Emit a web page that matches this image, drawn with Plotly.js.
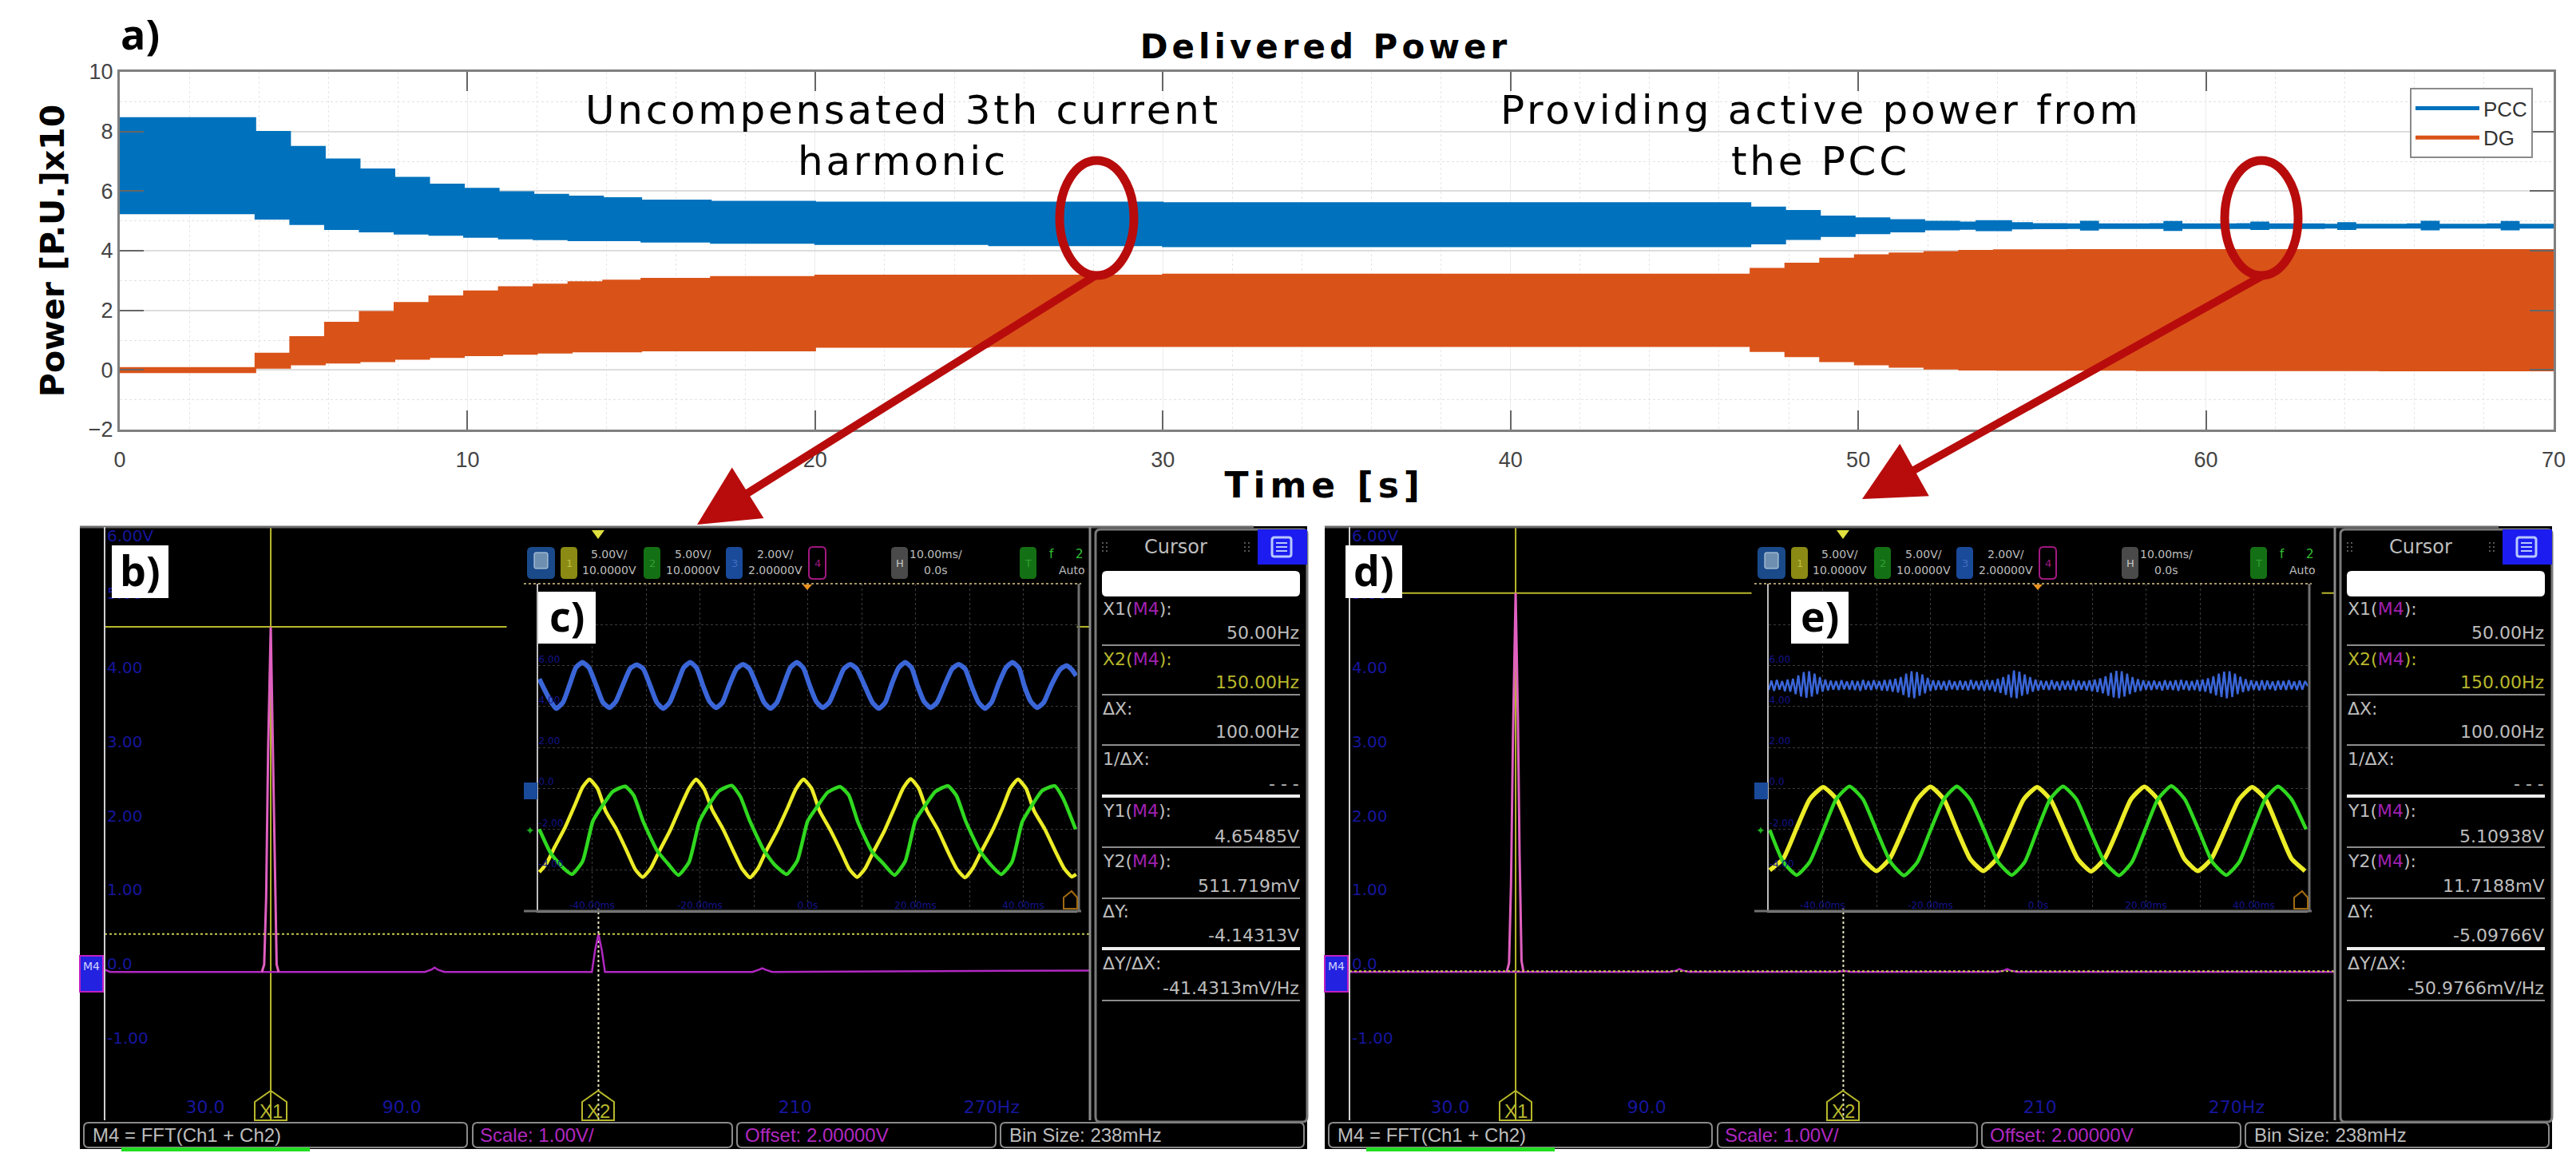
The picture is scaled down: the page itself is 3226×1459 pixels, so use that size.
<!DOCTYPE html>
<html><head><meta charset="utf-8">
<script src="https://cdn.plot.ly/plotly-3.0.1.min.js"></script>
<style>html,body{margin:0;padding:0;background:#fff}</style></head>
<body><div id="chart" style="width:3226px;height:1459px"></div>
<script>
// ---------- DATA: panel a) envelope of delivered power ----------
const pccUpperT=[0,3.9,4.9,5.9,6.9,7.9,8.9,9.9,10.9,11.9,12.9,13.9,15,17,20,30,46.9,47.9,48.9,49.9,50.9,51.9,52.9,53.4,53.9,54.4,55,56,56.4,56.9,58.4,58.8,59.3,60.9,61.3,61.8,63.4,63.8,64.3,65.8,66.2,66.7,68.1,68.5,69,70];
const pccUpperV=[8.45,7.99,7.49,7.07,6.73,6.45,6.22,6.08,5.97,5.88,5.82,5.77,5.69,5.65,5.62,5.60,5.45,5.34,5.15,5.09,5.03,4.98,4.95,5.0,5.0,4.93,4.90,4.89,4.98,4.89,4.90,4.97,4.89,4.90,4.95,4.89,4.88,4.93,4.88,4.89,4.98,4.88,4.89,4.97,4.88,4.88];
const pccLowerT=[0,3.9,4.9,5.9,6.9,7.9,8.9,9.9,10.9,11.9,12.9,15,17,20,25,30,46.9,47.9,48.9,49.9,50.9,51.9,52.9,53.4,53.9,54.4,55,56,56.4,56.9,58.4,58.8,59.3,60.9,61.3,61.8,63.4,63.8,64.3,65.8,66.2,66.7,68.1,68.5,69,70];
const pccLowerV=[5.25,5.07,4.89,4.72,4.64,4.57,4.53,4.46,4.41,4.38,4.35,4.30,4.26,4.22,4.18,4.15,4.24,4.39,4.49,4.58,4.64,4.71,4.73,4.68,4.68,4.74,4.75,4.76,4.70,4.76,4.76,4.69,4.76,4.76,4.72,4.76,4.77,4.72,4.77,4.77,4.71,4.77,4.77,4.71,4.77,4.77];
const dgUpperT=[0,3.9,4.9,5.9,6.9,7.9,8.9,9.9,10.9,11.9,12.9,13.9,15,17,20,30,46.9,47.9,48.9,49.9,50.9,51.9,52.9,53.9,56,70];
const dgUpperV=[0.07,0.55,1.11,1.59,1.95,2.25,2.47,2.64,2.78,2.87,2.95,3.0,3.06,3.12,3.17,3.2,3.40,3.57,3.74,3.85,3.91,3.96,4.0,4.02,4.03,4.03];
const dgLowerT=[0,3.9,4.9,5.9,6.9,7.9,8.9,9.9,11,12,13,15,20,25,46.9,47.9,48.9,49.9,50.9,51.9,52.9,54,58,65,70];
const dgLowerV=[-0.08,0.07,0.18,0.24,0.29,0.37,0.43,0.49,0.54,0.58,0.62,0.65,0.77,0.8,0.63,0.46,0.29,0.18,0.10,0.04,0.01,0,-0.01,-0.02,-0.03];
const mainXTicks=[0,10,20,30,40,50,60,70];
const mainYTicks=[-2,0,2,4,6,8,10];

// ---------- DATA: FFT spectra (Hz, V) ----------
const fftBaseHz=[-0.7,1,47,97,99,100,101,103,148,149,150,151,152,197,199,200,201,203,300];
const fftBaseB =[0.03,0,0,0,0.03,0.06,0.03,0,0,0.3,0.51,0.3,0,0,0.03,0.05,0.03,0,0.02];
const fftBaseD =[0,0,0,0,0.02,0.04,0.02,0,0,0.01,0.012,0.01,0,0,0.02,0.04,0.02,0,0];
const peakHz=[47.3,48,48.6,49.2,50,50.7,51.2,51.8,52.4];
const peakB=[0,0.1,1.0,3.0,4.65,3.0,1.4,0.1,0];
const peakD=[0,0.12,1.2,3.2,5.11,3.4,1.6,0.15,0];
const cursorY1B=4.65485, cursorY2B=0.511719, cursorY1D=5.10938, cursorY2D=0.0117188;
const fftXTicks=[30,90,210,270], fftXText=['30.0','90.0','210','270Hz'];
const fftYTicks=[-1,0,1,2,3,4,5,5.77], fftYText=['-1.00','0.0','1.00','2.00','3.00','4.00','5.00','6.00V'];

// ---------- DATA: oscilloscope insets (ms, divisions) ----------
const c1T=[-49.8,-48.5,-47,-45,-43,-41.8,-40.5,-39,-37.5,-35.5,-33.5,-32,-30.6,-29.1,-27.6,-25.6,-23.6,-22,-20.7,-19.2,-17.7,-15.7,-13.7,-12.2,-10.7,-9.2,-7.7,-5.7,-3.7,-2.2,-0.8,0.7,2.2,4.2,6.2,7.7,9.2,10.7,12.2,14.2,16.2,17.7,19.1,20.6,22.1,24.1,26.1,27.7,29.2,30.7,32.2,34.2,36.2,37.6,39,40.5,42,44,46,47.6,49,49.8];
const c1V=[-3.05,-2.85,-2.45,-1.95,-1.35,-0.98,-0.78,-1.0,-1.55,-2.0,-2.55,-2.98,-3.17,-2.95,-2.55,-2.05,-1.45,-1.0,-0.78,-1.02,-1.53,-2.0,-2.56,-2.96,-3.18,-2.95,-2.53,-2.04,-1.47,-1.02,-0.78,-1.0,-1.55,-2.02,-2.55,-2.97,-3.17,-2.95,-2.55,-2.05,-1.45,-1.0,-0.77,-1.0,-1.54,-2.0,-2.57,-2.98,-3.18,-2.94,-2.55,-2.05,-1.46,-1.0,-0.78,-1.0,-1.55,-2.0,-2.55,-2.96,-3.16,-3.1];
const c2T=[-49.8,-47.7,-45.7,-43.75,-41.75,-39.85,-38.15,-36.15,-33.85,-32.25,-30.55,-27.95,-25.95,-24,-22,-20.1,-18.4,-16.4,-14.1,-12.5,-10.8,-8.2,-6.2,-3.9,-1.9,0,1.7,3.7,6,7.6,9.3,11.9,13.9,16.1,18.1,20,21.7,23.7,26,27.6,29.3,31.9,33.9,35.9,37.9,39.8,41.5,43.5,45.8,47.4,49.7];
const c2V=[-2.0,-2.58,-2.9,-3.1,-2.78,-1.8,-1.44,-1.08,-0.95,-1.18,-1.8,-2.52,-2.84,-3.12,-2.8,-1.82,-1.42,-1.06,-0.93,-1.2,-1.78,-2.5,-2.86,-3.1,-2.76,-1.8,-1.46,-1.1,-0.96,-1.16,-1.82,-2.54,-2.82,-3.12,-2.78,-1.78,-1.44,-1.08,-0.94,-1.18,-1.8,-2.52,-2.86,-3.1,-2.8,-1.82,-1.44,-1.06,-0.94,-1.25,-2.0];
const c3T=[-49.8,-48,-46.7,-45.4,-44.2,-43,-41.8,-40.6,-39.2,-38,-36.8,-35.6,-34.2,-32.9,-31.7,-30.5,-29.2,-28,-26.8,-25.6,-24.2,-23,-21.8,-20.6,-19.4,-18.2,-17,-15.8,-14.5,-13.2,-12,-10.8,-9.4,-8.1,-6.9,-5.7,-4.4,-3.2,-2,-0.8,0.4,1.6,2.8,4,5.4,6.7,7.9,9.1,10.6,12,13.2,14.4,15.6,16.9,18.1,19.3,20.4,21.6,22.8,24,25.4,26.8,28,29.2,30.4,31.7,32.9,34.1,35.4,36.8,38,39.2,40.2,41.4,42.6,43.8,45.2,46.8,48,49,49.8];
const c3V=[1.67,1.2,0.95,1.1,1.52,1.95,2.08,1.95,1.5,1.1,0.97,1.12,1.55,1.93,2.02,1.92,1.5,1.1,0.95,1.1,1.55,1.95,2.08,1.94,1.5,1.12,0.97,1.1,1.54,1.92,2.03,1.92,1.5,1.1,0.95,1.1,1.55,1.95,2.08,1.94,1.5,1.12,0.97,1.1,1.52,1.92,2.03,1.92,1.5,1.1,0.95,1.1,1.55,1.95,2.08,1.94,1.5,1.12,0.97,1.1,1.52,1.92,2.03,1.92,1.5,1.1,0.95,1.1,1.55,1.95,2.08,1.94,1.5,1.12,0.97,1.1,1.52,1.9,2.0,1.9,1.75];
const e1T=[-49.8,-47.3,-44.9,-42.4,-39.9,-37.4,-34.9,-32.5,-30,-27.5,-25,-22.5,-20,-17.5,-15.1,-12.6,-10.2,-7.7,-5.2,-2.7,-0.2,2.3,4.8,7.3,9.8,12.3,14.8,17.2,19.7,22.2,24.7,27.1,29.6,32.1,34.7,37.2,39.7,42.2,44.6,47,49.5];
const e1V=[-3.0,-2.72,-2.0,-1.27,-0.97,-1.27,-2.0,-2.72,-3.02,-2.71,-2.0,-1.28,-0.96,-1.27,-2.01,-2.73,-3.02,-2.72,-2.0,-1.27,-0.97,-1.28,-2.0,-2.72,-3.03,-2.72,-2.0,-1.27,-0.96,-1.27,-2.0,-2.72,-3.02,-2.73,-2.0,-1.28,-0.97,-1.27,-2.0,-2.72,-3.02];
const e2T=[-49.8,-47.3,-44.8,-42.4,-39.9,-37.5,-35,-32.5,-30,-27.4,-24.9,-22.4,-20,-17.5,-15.1,-12.6,-10,-7.5,-4.9,-2.5,-0.2,2.2,4.6,7.1,9.6,12.3,15,17.4,19.8,22.2,24.7,27.2,29.8,32.3,34.9,37.3,39.7,42.1,44.5,47,49.7];
const e2V=[-2.02,-2.8,-3.12,-2.8,-2.03,-1.27,-0.95,-1.27,-2.03,-2.8,-3.13,-2.8,-2.03,-1.27,-0.95,-1.28,-2.03,-2.79,-3.12,-2.8,-2.03,-1.27,-0.95,-1.27,-2.02,-2.8,-3.13,-2.8,-2.03,-1.27,-0.94,-1.27,-2.03,-2.8,-3.12,-2.8,-2.03,-1.27,-0.95,-1.27,-2.0];
const e3T=[-50,-49.5,-49,-48.5,-48,-47.5,-47,-46.5,-46,-45.5,-45,-44.5,-44,-43.5,-43,-42.5,-42,-41.5,-41,-40.5,-40,-39.5,-39,-38.5,-38,-37.5,-37,-36.5,-36,-35.5,-35,-34.5,-34,-33.5,-33,-32.5,-32,-31.5,-31,-30.5,-30,-29.5,-29,-28.5,-28,-27.5,-27,-26.5,-26,-25.5,-25,-24.5,-24,-23.5,-23,-22.5,-22,-21.5,-21,-20.5,-20,-19.5,-19,-18.5,-18,-17.5,-17,-16.5,-16,-15.5,-15,-14.5,-14,-13.5,-13,-12.5,-12,-11.5,-11,-10.5,-10,-9.5,-9,-8.5,-8,-7.5,-7,-6.5,-6,-5.5,-5,-4.5,-4,-3.5,-3,-2.5,-2,-1.5,-1,-0.5,0,0.5,1,1.5,2,2.5,3,3.5,4,4.5,5,5.5,6,6.5,7,7.5,8,8.5,9,9.5,10,10.5,11,11.5,12,12.5,13,13.5,14,14.5,15,15.5,16,16.5,17,17.5,18,18.5,19,19.5,20,20.5,21,21.5,22,22.5,23,23.5,24,24.5,25,25.5,26,26.5,27,27.5,28,28.5,29,29.5,30,30.5,31,31.5,32,32.5,33,33.5,34,34.5,35,35.5,36,36.5,37,37.5,38,38.5,39,39.5,40,40.5,41,41.5,42,42.5,43,43.5,44,44.5,45,45.5,46,46.5,47,47.5,48,48.5,49,49.5,50];
const e3V=[1.40,1.63,1.38,1.65,1.41,1.62,1.37,1.66,1.36,1.68,
 1.3,1.76,1.24,1.84,1.21,1.86,1.24,1.8,1.3,1.72,
 1.36,1.66,1.39,1.63,1.41,1.62,1.4,1.64,1.42,1.61,
 1.41,1.63,1.4,1.62,1.38,1.65,1.41,1.62,1.4,1.64,
 1.42,1.62,1.39,1.65,1.38,1.66,1.36,1.68,1.34,1.72,
 1.28,1.8,1.22,1.86,1.2,1.84,1.26,1.78,1.32,1.7,
 1.38,1.64,1.4,1.63,1.41,1.62,1.39,1.64,1.42,1.61,
 1.4,1.63,1.41,1.62,1.39,1.65,1.42,1.62,1.4,1.63,
 1.38,1.65,1.4,1.64,1.36,1.68,1.33,1.72,1.28,1.78,
 1.22,1.88,1.2,1.85,1.26,1.78,1.3,1.72,1.36,1.66,
 1.39,1.63,1.41,1.62,1.4,1.64,1.42,1.61,1.39,1.63,
 1.41,1.62,1.4,1.65,1.38,1.63,1.41,1.62,1.39,1.64,
 1.37,1.66,1.35,1.69,1.32,1.74,1.26,1.82,1.22,1.87,
 1.2,1.86,1.24,1.8,1.3,1.72,1.35,1.67,1.38,1.64,
 1.41,1.62,1.4,1.63,1.42,1.61,1.39,1.64,1.41,1.62,
 1.4,1.64,1.38,1.65,1.41,1.63,1.39,1.62,1.4,1.65,
 1.37,1.66,1.36,1.69,1.32,1.74,1.27,1.8,1.23,1.85,
 1.2,1.86,1.23,1.8,1.3,1.73,1.35,1.67,1.38,1.64,
 1.41,1.62,1.39,1.64,1.4,1.63,1.42,1.61,1.39,1.63,
 1.41,1.62,1.4,1.64,1.42,1.61,1.4,1.63,1.41,1.62,1.5];
const insetXTicks=[-40,-30,-20,-10,0,10,20,30,40], insetXText=['-40.00ms','','-20.00ms','','0.0s','','20.00ms','','40.00ms'];
const insetYTicks=[-3,-2,-1,0,1,2,3], insetYText=['-4.00','-2.00','0.0','2.00','4.00','6.00',''];

// ---------- DATA: text ----------
const cursorLabels=['X1(<span style="color:#a020b0">M4</span>):','X2(<span style="color:#a020b0">M4</span>):','\u0394X:','1/\u0394X:','Y1(<span style="color:#a020b0">M4</span>):','Y2(<span style="color:#a020b0">M4</span>):','\u0394Y:','\u0394Y/\u0394X:'];
const cursorValuesB=['50.00Hz','150.00Hz','100.00Hz','- - -','4.65485V','511.719mV','-4.14313V','-41.4313mV/Hz'];
const cursorValuesD=['50.00Hz','150.00Hz','100.00Hz','- - -','5.10938V','11.7188mV','-5.09766V','-50.9766mV/Hz'];
const chanScales=[['5.00V/','10.0000V'],['5.00V/','10.0000V'],['2.00V/','2.00000V']];

// ---------- page-pixel helpers ----------
const W=3226,H=1459, px=x=>x/W, py=y=>1-y/H;
const RED='#b80c0c', GREY='#bdbdbd', BL='#16169c', OL='#b8b82c', MG='#b028c0', DEJA='DejaVu Sans', NARROW='"Liberation Sans Narrow","Liberation Sans",Arial';
const spaced=(s,n)=>'<span style="letter-spacing:'+n+'px">'+s+'</span>';
const shapes=[], annos=[], traces=[];
const rect=(l,t,r,b,fill,line,lw,layer)=>shapes.push({type:'rect',xref:'paper',yref:'paper',x0:px(l),x1:px(r),y0:py(b),y1:py(t),fillcolor:fill||'rgba(0,0,0,0)',line:{color:line||'rgba(0,0,0,0)',width:lw||0},layer:layer||'below'});
const seg=(x0,y0,x1,y1,c,w,dash,layer)=>shapes.push({type:'line',xref:'paper',yref:'paper',x0:px(x0),x1:px(x1),y0:py(y0),y1:py(y1),line:{color:c,width:w,dash:dash||'solid'},layer:layer||'above'});
const poly=(pts,fill,line,lw,layer)=>shapes.push({type:'path',xref:'paper',yref:'paper',path:'M'+pts.map(p=>px(p[0])+','+py(p[1])).join('L')+'Z',fillcolor:fill||'rgba(0,0,0,0)',line:{color:line||'rgba(0,0,0,0)',width:lw||0},layer:layer||'above'});
const round=(l,t,r,b,rad,fill,line,lw,layer)=>{const a=px,c=py;shapes.push({type:'path',xref:'paper',yref:'paper',path:`M${a(l+rad)},${c(t)}L${a(r-rad)},${c(t)}Q${a(r)},${c(t)} ${a(r)},${c(t+rad)}L${a(r)},${c(b-rad)}Q${a(r)},${c(b)} ${a(r-rad)},${c(b)}L${a(l+rad)},${c(b)}Q${a(l)},${c(b)} ${a(l)},${c(b-rad)}L${a(l)},${c(t+rad)}Q${a(l)},${c(t)} ${a(l+rad)},${c(t)}Z`,fillcolor:fill||'rgba(0,0,0,0)',line:{color:line||'rgba(0,0,0,0)',width:lw||0},layer:layer||'above'});};
const txt=(x,y,s,size,color,anchor,family,weight,angle)=>annos.push({xref:'paper',yref:'paper',x:px(x),y:py(y),text:s,showarrow:false,xanchor:anchor||'center',yanchor:'middle',textangle:angle||0,borderpad:0,font:{size:size,color:color||'#000',family:family||DEJA,weight:weight||400}});

const layout={width:W,height:H,margin:{l:0,r:0,t:0,b:0,autoexpand:false},paper_bgcolor:'#fff',plot_bgcolor:'rgba(0,0,0,0)',showlegend:true,
 title:{text:spaced('Delivered Power',5),x:px(1660),y:py(58),xref:'paper',yref:'paper',xanchor:'center',yanchor:'middle',font:{family:DEJA,size:42,weight:700,color:'#000'}},
 legend:{x:px(3018),y:py(110),xanchor:'left',yanchor:'top',traceorder:'normal',bgcolor:'#fff',bordercolor:'#8a8a8a',borderwidth:2,font:{family:NARROW,size:26,color:'#333'},itemwidth:80,tracegroupgap:0,itemclick:false}};

// ---------- panel a) ----------
const band=(n,c,uT,uV,lT,lV)=>{
 traces.push({x:[null],y:[null],name:n,type:'scatter',mode:'lines',line:{color:c,width:5},xaxis:'x',yaxis:'y'});
 traces.push({x:uT,y:uV,name:n+' max',type:'scatter',mode:'lines',line:{color:c,width:2,shape:'hv'},showlegend:false,xaxis:'x',yaxis:'y'});
 traces.push({x:lT,y:lV,name:n+' min',type:'scatter',mode:'lines',line:{color:c,width:2,shape:'hv'},fill:'tonexty',fillcolor:c,showlegend:false,xaxis:'x',yaxis:'y'});
};
band('PCC','#0072BD',pccUpperT,pccUpperV,pccLowerT,pccLowerV);
band('DG','#D95319',dgUpperT,dgUpperV,dgLowerT,dgLowerV);
layout.xaxis={domain:[px(150),px(3198)],range:[0,70],tickvals:mainXTicks,ticks:'inside',ticklen:24,tickcolor:'#666',tickwidth:2,mirror:'ticks',showline:true,linecolor:'#808080',linewidth:3,showgrid:true,gridcolor:'#ececec',gridwidth:1,
 minor:{dtick:2,showgrid:true,gridcolor:'#e6e6e6',griddash:'dot',gridwidth:1},tickfont:{family:NARROW,size:27,color:'#444'},ticklabelstandoff:12,zeroline:false,
 title:{text:spaced('Time [s]',6)+'&nbsp;&nbsp;',font:{family:DEJA,size:44,weight:700,color:'#000'},standoff:2},anchor:'y'};
layout.yaxis={domain:[py(538),py(90)],range:[-2,10],tickvals:mainYTicks,ticks:'inside',ticklen:30,tickcolor:'#666',tickwidth:2,mirror:'ticks',showline:true,linecolor:'#808080',linewidth:3,showgrid:true,gridcolor:'#dddddd',gridwidth:2,
 minor:{dtick:1,showgrid:true,gridcolor:'#e2e2e2',griddash:'dot',gridwidth:1},tickfont:{family:NARROW,size:27,color:'#444'},zeroline:false,
 title:{text:'Power [P.U.]x10',font:{family:DEJA,size:41,weight:700,color:'#000'},standoff:18},anchor:'x'};
txt(150,42,'a)',52,'#000','left','Open Sans',700);
txt(1131,138,spaced('Uncompensated 3th current',3.7),50,'#000','center');
txt(1131,202,spaced('harmonic',3.7),50,'#000','center');
txt(2280,138,spaced('Providing active power from',3.7),50,'#000','center');
txt(2280,202,spaced('the PCC',3.7),50,'#000','center');
[[1327,1420],[2786,2878]].forEach(e=>shapes.push({type:'circle',xref:'paper',yref:'paper',x0:px(e[0]),x1:px(e[1]),y0:py(345),y1:py(201),line:{color:RED,width:11},layer:'above'}));
[[873,657,1372,345],[2332,625,2834,345]].forEach(a=>annos.push({xref:'paper',yref:'paper',x:px(a[0]),y:py(a[1]),ax:a[2]-a[0],ay:a[3]-a[1],text:'',showarrow:true,arrowcolor:RED,arrowwidth:10,arrowhead:2,arrowsize:1.5,standoff:0}));

// ---------- scope panels ----------
function scope(dx,dxi,xa,ya,xb,yb,fftY,pkY,y1,y2,vals,name1,name2,insetCh,labelBox){
 rect(100+dx,659,1637+dx,1439,'#000','#000',0);
 seg(100+dx,660,1570+dx,660,'#6a6a6a',3);
 seg(131+dx,660,131+dx,1403,'#cfcfcf',2);
 seg(1365+dx,660,1365+dx,1403,'#8a8a8a',3);
 const sx=xa.replace('x','xaxis'), sy=ya.replace('y','yaxis');
 layout[sx]={domain:[px(131+dx),px(1365+dx)],range:[-0.7,300],tickvals:fftXTicks,ticktext:fftXText,ticks:'',showline:false,showgrid:false,zeroline:false,ticklabelposition:'inside',ticklabeloverflow:'allow',tickfont:{family:DEJA,size:22,color:BL},anchor:ya,ticklabelstandoff:2};
 layout[sy]={domain:[py(1403),py(660)],range:[-2,6],tickvals:fftYTicks,ticktext:fftYText,ticks:'',showline:false,showgrid:false,zeroline:false,ticklabelposition:'inside',ticklabeloverflow:'allow',tickfont:{family:DEJA,size:20,color:BL},ticklabelshift:-10,anchor:xa};
 const line=(x,y,c,w,dash,n)=>traces.push({x:x,y:y,type:'scatter',mode:'lines',name:n,showlegend:false,hoverinfo:'skip',line:{color:c,width:w,dash:dash||'solid'},xaxis:xa,yaxis:ya});
 line([50,50],[-2,6],OL,2,'solid','X1');
 line([150,150],[-2,0.85],'#e8e8c0',2,'dot','X2');
 line([-0.7,122],[y1,y1],OL,2,'solid','Y1');
 line([296,300],[y1,y1],OL,2,'solid','Y1');
 line(fftBaseHz,fftY,MG,2.5,'solid',name1);
 line(peakHz,pkY,'#e060c0',3,'solid',name2);
 line([-0.7,300],[y2,y2],'#c9c950',2,'dot','Y2');
 rect(100+dx,1197,129+dx,1242,'#2222e0','#c020c0',2,'above');
 txt(114+dx,1210,'M4',14,'#d0d0ff');
 poly([[741+dx,664],[757+dx,664],[749+dx,675]],'#e0e040',null,0);
 [[339,'X1'],[749,'X2']].forEach(c=>{const x=c[0]+dx;
  poly([[x-20,1403],[x-20,1380],[x,1366],[x+20,1380],[x+20,1403]],null,OL,2);
  txt(x,1391,c[1],24,OL,'center',NARROW);});
 round(105+dx,1406,585+dx,1437,6,'#000','#8a8a8a',2);
 round(592+dx,1406,917+dx,1437,6,'#000','#8a8a8a',2);
 round(923+dx,1406,1247+dx,1437,6,'#000','#8a8a8a',2);
 round(1253+dx,1406,1633+dx,1437,6,'#000','#8a8a8a',2);
 txt(115+dx,1421,'M4 = FFT(Ch1 + Ch2)',24,GREY,'left','Liberation Sans');
 txt(600+dx,1421,'Scale: 1.00V/',24,MG,'left','Liberation Sans');
 txt(932+dx,1421,'Offset: 2.00000V',24,MG,'left','Liberation Sans');
 txt(1263+dx,1421,'Bin Size: 238mHz',24,GREY,'left','Liberation Sans');
 rect(152+dx,1437,388+dx,1442,'#22dd22',null,0,'above');
 round(1372+dx,663,1637+dx,1405,6,'#000','#7a7a7a',3);
 poly([[1575+dx,663],[1637+dx,663],[1637+dx,707],[1575+dx,707]],'#1c1cf0',null,0);
 round(1593+dx,673,1617+dx,697,3,'#1c1cf0','#b8c8ff',3);
 seg(1598+dx,680,1612+dx,680,'#b8c8ff',2);seg(1598+dx,685,1612+dx,685,'#b8c8ff',2);seg(1598+dx,690,1612+dx,690,'#b8c8ff',2);
 txt(1472+dx,685,'Cursor',24,GREY);
 [1380,1558].forEach(x=>{[[0,0],[5,0],[0,5],[5,5],[0,10],[5,10]].forEach(d=>rect(x+dx+d[0],679+d[1],x+dx+d[0]+2,681+d[1],'#555',null,0,'above'));});
 round(1380+dx,715,1628+dx,747,6,'#fff',null,0);
 const rowY=[762,825,887,950,1015,1078,1141,1206], valY=[792,855,917,981,1047,1109,1171,1237], ruleY=[808,870,933,997,1061,1125,1188,1253], thick=[0,0,0,1,0,0,1,0];
 cursorLabels.forEach((l,i)=>{
  txt(1380+dx,rowY[i],l,22,i==1?OL:GREY,'left');
  txt(1628+dx,valY[i],vals[i],22,i==1?OL:GREY,'right');
  seg(1380+dx,ruleY[i],1628+dx,ruleY[i],thick[i]?'#eee':'#8c8c8c',thick[i]?4:2);
 });
 rect(656+dxi,684,1354+dxi,1141,'#000',null,0,'below');
 const ix=xb.replace('x','xaxis'), iy=yb.replace('y','yaxis');
 layout[ix]={domain:[px(674+dxi),px(1349+dxi)],range:[-50,50],tickvals:insetXTicks,ticktext:insetXText,ticks:'',showline:true,linecolor:'#9a9a9a',linewidth:2,mirror:false,showgrid:true,gridcolor:'#3c3c3c',griddash:'dot',gridwidth:1,zeroline:false,ticklabelposition:'inside',ticklabeloverflow:'allow',tickfont:{family:DEJA,size:12,color:'#14148a'},anchor:yb};
 layout[iy]={domain:[py(1141),py(731)],range:[-4,4],tickvals:insetYTicks,ticktext:insetYText,ticks:'',showline:true,linecolor:'#bdbdbd',linewidth:2,showgrid:true,gridcolor:'#3c3c3c',griddash:'dot',gridwidth:1,zeroline:false,ticklabelposition:'inside',ticklabeloverflow:'allow',tickfont:{family:DEJA,size:12,color:'#14148a'},ticklabelshift:-8,anchor:xb};
 insetCh.forEach(c=>traces.push({x:c.t,y:c.v,type:'scatter',mode:'lines',showlegend:false,hoverinfo:'skip',name:c.n,line:{color:c.c,width:c.w,shape:c.s,smoothing:0.5},xaxis:xb,yaxis:yb}));
 seg(656+dxi,731,1354+dxi,731,'#a89868',2,'dot');
 seg(656+dxi,1141,1354+dxi,1141,'#707070',3);
 seg(1351+dxi,731,1351+dxi,1141,'#707070',3);
 poly([[1005+dxi,732],[1017+dxi,732],[1011+dxi,739]],'#e89020',null,0);
 poly([[1332+dxi,1138],[1332+dxi,1124],[1342+dxi,1116],[1349+dxi,1124],[1349+dxi,1138]],null,'#a06a10',2);
 rect(656+dxi,980,673+dxi,1001,'#1a4a9a',null,0,'above');
 txt(664+dxi,1040,'\u2726',14,'#20b020');
 round(660+dxi,685,695+dxi,725,6,'#1a4a8a',null,0);
 round(669+dxi,692,686+dxi,712,2,'#6f8fb0','#c8d8e8',1);
 const chips=[[702,'#8a8a14','1','#c0c040'],[806,'#147014','2','#30a030'],[909,'#1a4a9a','3','#4070c0'],[1116,'#4a4a4a','H','#c8c8c8'],[1277,'#147014','T','#30a030']];
 chips.forEach(c=>{round(c[0]+dxi,685,c[0]+21+dxi,725,5,c[1],null,0);txt(c[0]+10.5+dxi,705,c[2],13,c[3]);});
 round(1013+dxi,685,1034+dxi,725,5,'#000','#a01880',2);txt(1023.5+dxi,705,'4',13,'#a01880');
 [[763,0],[868,1],[971,2]].forEach(c=>{txt(c[0]+dxi,694,chanScales[c[1]][0],14,GREY);txt(c[0]+dxi,714,chanScales[c[1]][1],14,GREY);});
 txt(1172+dxi,694,'10.00ms/',14,GREY);txt(1172+dxi,714,'0.0s',14,GREY);
 txt(1317+dxi,694,'f',15,'#30c030');txt(1352+dxi,694,'2',15,'#30c030');txt(1342+dxi,714,'Auto',14,GREY);
 labelBox.forEach(b=>{rect(b[0],b[1],b[2],b[3],'#fff',null,0,'above');txt((b[0]+b[2])/2,(b[1]+b[3])/2-3,b[4],52,'#000','center','Open Sans',700);});
}
scope(0,0,'x2','y2','x3','y3',fftBaseB,peakB,cursorY1B,cursorY2B,cursorValuesB,'FFT b','FFT b peak',[
 {t:c3T,v:c3V,c:'#3a66d8',w:6,s:'spline',n:'Ch3'},{t:c1T,v:c1V,c:'#ecec28',w:4.5,s:'spline',n:'Ch1'},{t:c2T,v:c2V,c:'#30d820',w:4.5,s:'spline',n:'Ch2'}],
 [[140,683,211,749,'b)'],[674,741,746,806,'c)']]);
scope(1559,1541,'x4','y4','x5','y5',fftBaseD,peakD,cursorY1D,cursorY2D,cursorValuesD,'FFT d','FFT d peak',[
 {t:e3T,v:e3V,c:'#3a66d8',w:2.5,s:'linear',n:'Ch3'},{t:e1T,v:e1V,c:'#ecec28',w:5.5,s:'spline',n:'Ch1'},{t:e2T,v:e2V,c:'#30d820',w:4.5,s:'spline',n:'Ch2'}],
 [[1685,683,1756,749,'d)'],[2243,741,2315,806,'e)']]);

layout.shapes=shapes;layout.annotations=annos;
Plotly.newPlot('chart',traces,layout,{displayModeBar:false,responsive:false});
</script></body></html>
